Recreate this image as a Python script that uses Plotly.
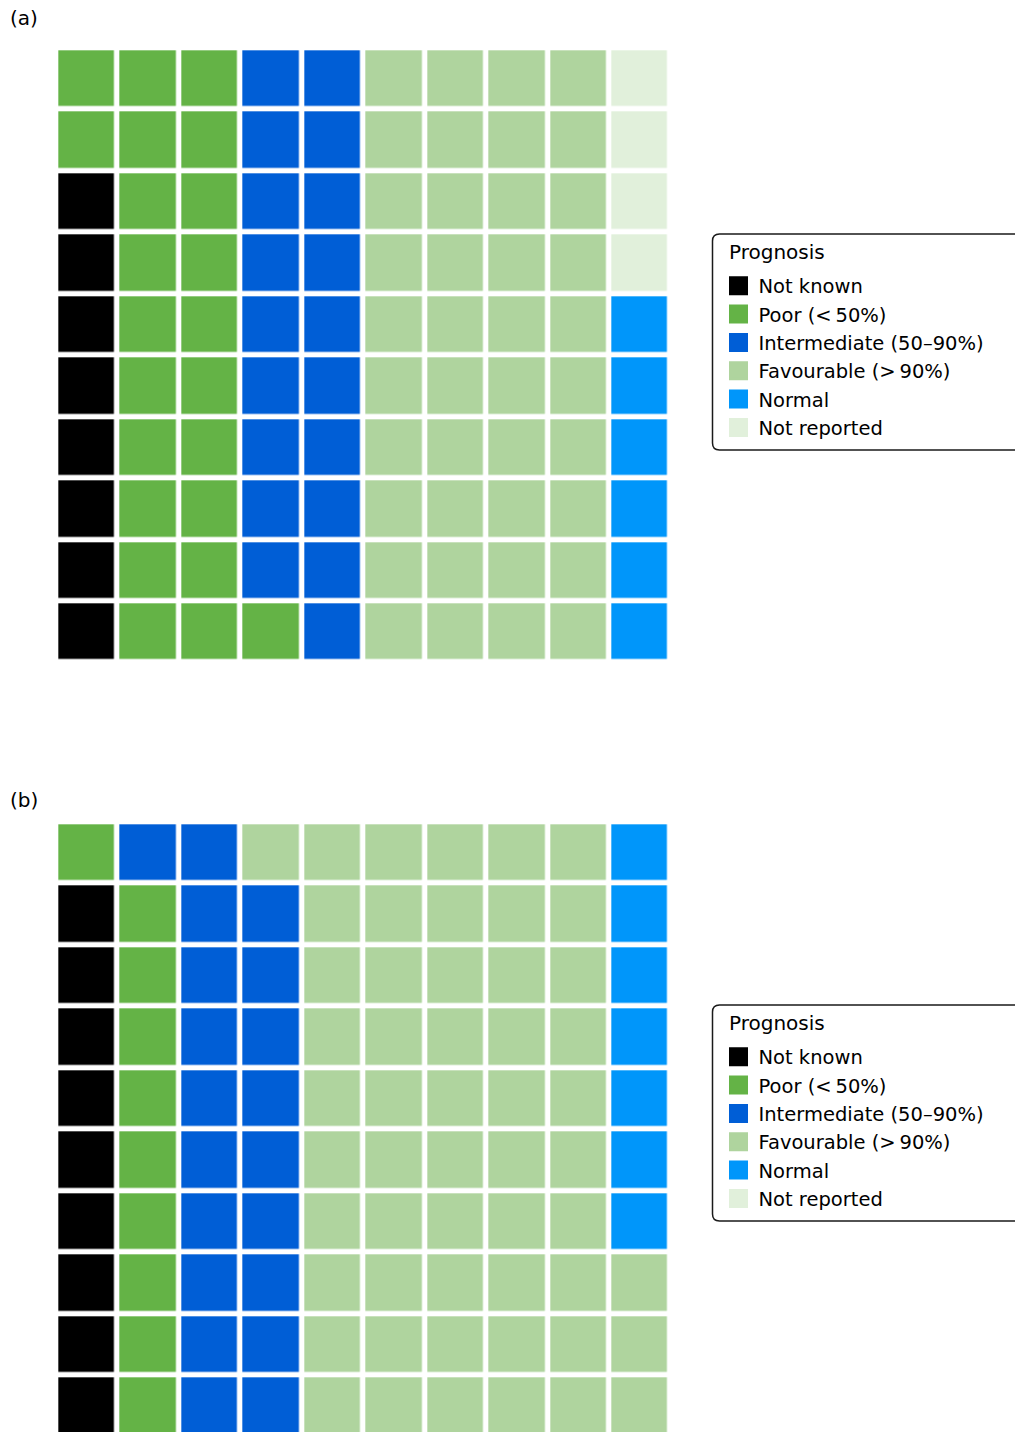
import plotly.graph_objects as go

categories = ["Not known", "Poor (&lt;\u200950%)", "Intermediate (50\u201390%)",
              "Favourable (&gt;\u200990%)", "Normal", "Not reported"]
colors = ["#000000", "#64b346", "#005ed6", "#afd49e", "#0096fa", "#e1f0db"]
counts_a = [8, 23, 19, 40, 6, 4]
counts_b = [9, 10, 20, 54, 7, 0]
panel_labels = ["(a)", "(b)"]
legend_title = "Prognosis"

NROW, NCOL = 10, 10


def waffle(counts):
    # fill column by column, bottom to top, left to right
    z = [[None] * NCOL for _ in range(NROW)]
    seq = []
    for i, c in enumerate(counts):
        seq += [i] * c
    k = 0
    for col in range(NCOL):
        for r in range(NROW - 1, -1, -1):
            if k < len(seq):
                z[r][col] = seq[k]
            k += 1
    return z


n = len(colors)
cs = []
for i, c in enumerate(colors):
    cs.append([i / n, c])
    cs.append([(i + 1) / n, c])

fig = go.Figure()
font_family = "DejaVu Sans, Noto Sans, sans-serif"
FS = 20
LFS = 19.5

for p, counts in enumerate([counts_a, counts_b]):
    xa = "x" if p == 0 else "x2"
    ya = "y" if p == 0 else "y2"
    fig.add_trace(go.Heatmap(
        z=waffle(counts), x=list(range(NCOL)), y=list(range(NROW)),
        colorscale=cs, zmin=-0.5, zmax=n - 0.5, showscale=False,
        xgap=5.4, ygap=5.4, xaxis=xa, yaxis=ya, hoverinfo="skip",
    ))
    for i, (cat, col) in enumerate(zip(categories, colors)):
        fig.add_trace(go.Scatter(
            x=[None], y=[None], mode="markers", name=cat,
            marker=dict(symbol="square", size=16, color=col,
                        line=dict(width=3, color=col)),
            xaxis=xa, yaxis=ya,
            legend="legend" if p == 0 else "legend2",
        ))

W, H = 1015, 1432
x0, x1 = 56.3, 670.7
ya0, ya1 = 48.3, 662.7
yb0 = 822.3
pitch = (x1 - x0) / NCOL

axis_common = dict(showgrid=False, zeroline=False, showticklabels=False,
                   ticks="", showline=False)

# legend geometry (pixels)
leg_left = 712.5
leg_tops = [234, 1005]
leg_h = 216
item_top_offset = 32.5

legend_common = dict(xanchor="left", yanchor="top", borderwidth=0,
                     bgcolor="rgba(0,0,0,0)", font=dict(size=LFS),
                     itemclick=False, itemdoubleclick=False)

fig.update_layout(
    width=W, height=H,
    margin=dict(l=0, r=0, t=0, b=0, autoexpand=False),
    paper_bgcolor="white", plot_bgcolor="white",
    font=dict(family=font_family, color="#000000", size=FS),
    xaxis=dict(domain=[x0 / W, x1 / W], range=[-0.5, 9.5], **axis_common),
    yaxis=dict(domain=[1 - ya1 / H, 1 - ya0 / H], range=[9.5, -0.5], **axis_common),
    xaxis2=dict(domain=[x0 / W, x1 / W], range=[-0.5, 9.5], anchor="y2", **axis_common),
    yaxis2=dict(domain=[0, 1 - yb0 / H],
                range=[-0.5 + (H - yb0) / pitch, -0.5], anchor="x2", **axis_common),
    legend=dict(x=(leg_left + 6) / W, y=1 - (leg_tops[0] + item_top_offset) / H,
                **legend_common),
    legend2=dict(x=(leg_left + 6) / W, y=1 - (leg_tops[1] + item_top_offset) / H,
                 **legend_common),
    showlegend=True,
)

r = 7
for t in leg_tops:
    xl, xr = leg_left / W, 1030 / W
    yt, yb = 1 - t / H, 1 - (t + leg_h) / H
    rx, ry = r / W, r / H
    path = (f"M {xl + rx},{yt} L {xr},{yt} L {xr},{yb} L {xl + rx},{yb} "
            f"Q {xl},{yb} {xl},{yb + ry} L {xl},{yt - ry} Q {xl},{yt} {xl + rx},{yt} Z")
    fig.add_shape(type="path", path=path, xref="paper", yref="paper",
                  line=dict(color="#1a1a1a", width=1.5), fillcolor="rgba(0,0,0,0)",
                  layer="above")
    fig.add_annotation(text=legend_title, xref="paper", yref="paper",
                       x=727 / W, y=1 - (t + 17.5) / H, xanchor="left",
                       yanchor="middle", showarrow=False, font=dict(size=FS))

for lbl, ypx in zip(panel_labels, [18, 800]):
    fig.add_annotation(text=lbl, xref="paper", yref="paper",
                       x=8 / W, y=1 - ypx / H, xanchor="left", yanchor="middle",
                       showarrow=False, font=dict(size=FS))

fig.write_html("out.html",
               config={"displayModeBar": False},
               post_script="document.body.style.margin='0';"
                           "document.body.style.overflow='hidden';")
